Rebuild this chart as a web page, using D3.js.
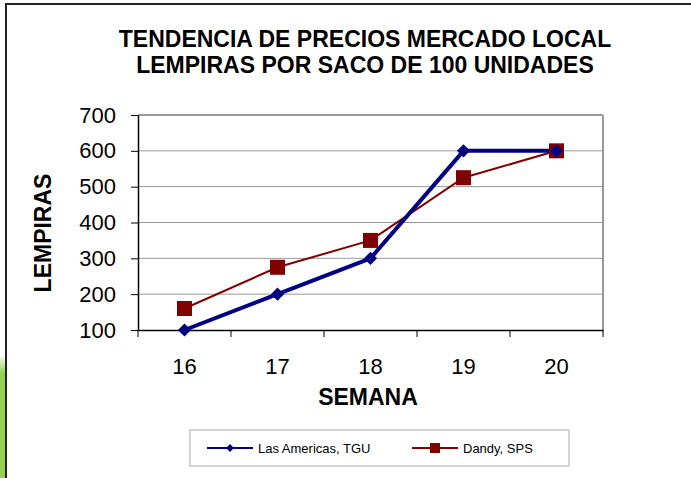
<!DOCTYPE html>
<html>
<head>
<meta charset="utf-8">
<script src="https://cdn.jsdelivr.net/npm/d3@7"></script>
<style>
  body { margin: 0; background: #fff; }
  svg { display: block; font-family: "Liberation Sans", Arial, sans-serif; }
</style>
</head>
<body>
<div id="chart"></div>
<script>
// Data
const semanas = ["16", "17", "18", "19", "20"];
const lasAmericas = [100, 200, 300, 600, 600];
const dandy = [160, 275, 350, 525, 600];
const yTicks = [100, 200, 300, 400, 500, 600, 700];
const seriesNames = ["Las Americas, TGU", "Dandy, SPS"];

const w = 691, h = 478;
const plot = { left: 138, right: 603, top: 115, bottom: 330 };

const svg = d3.select("#chart").append("svg")
  .attr("width", w)
  .attr("height", h);

// left green strip and slide frame
const grad = svg.append("defs").append("linearGradient")
  .attr("id", "greenFade").attr("x1", 0).attr("x2", 0).attr("y1", 0).attr("y2", 1);
grad.append("stop").attr("offset", "0%").attr("stop-color", "#92d050").attr("stop-opacity", 0);
grad.append("stop").attr("offset", "15%").attr("stop-color", "#92d050").attr("stop-opacity", 1);
grad.append("stop").attr("offset", "100%").attr("stop-color", "#92d050").attr("stop-opacity", 1);
svg.append("rect").attr("x", 0).attr("y", 355).attr("width", 5).attr("height", h - 355)
  .attr("fill", "url(#greenFade)");

svg.append("line").attr("x1", 6).attr("x2", w).attr("y1", 4).attr("y2", 4)
  .attr("stroke", "#222").attr("stroke-width", 2);
svg.append("line").attr("x1", 6).attr("x2", 6).attr("y1", 3).attr("y2", h)
  .attr("stroke", "#222").attr("stroke-width", 2);

// scales
const x = d3.scaleBand().domain(semanas).range([plot.left, plot.right]).padding(0);
const y = d3.scaleLinear().domain([100, 700]).range([plot.bottom, plot.top]);
const cx = d => x(d) + x.bandwidth() / 2;

// gridlines
svg.append("g").selectAll("line")
  .data(yTicks.slice(1))
  .enter().append("line")
  .attr("x1", plot.left).attr("x2", plot.right)
  .attr("y1", d => y(d)).attr("y2", d => y(d))
  .attr("stroke", "#999").attr("stroke-width", d => d === 700 ? 2 : 1);

// right border of plot
svg.append("line")
  .attr("x1", plot.right).attr("x2", plot.right)
  .attr("y1", plot.top).attr("y2", plot.bottom)
  .attr("stroke", "#999").attr("stroke-width", 2);

// y axis
const yAxis = d3.axisLeft(y).tickValues(yTicks).tickSize(7).tickPadding(15).tickSizeOuter(0);
const gy = svg.append("g")
  .attr("transform", "translate(" + plot.left + ",0)")
  .call(yAxis);
gy.select(".domain").attr("stroke", "#000").attr("stroke-width", 1.5);
gy.selectAll(".tick line").attr("stroke", "#000");
gy.selectAll("text").attr("font-size", 22).attr("fill", "#000")
  .attr("font-family", "Liberation Sans, Arial, sans-serif");

// x axis (labels centred on categories, ticks between them)
const xAxis = d3.axisBottom(x).tickSize(0).tickPadding(28).tickSizeOuter(0);
const gx = svg.append("g")
  .attr("transform", "translate(0," + plot.bottom + ")")
  .call(xAxis);
gx.select(".domain").attr("stroke", "#000").attr("stroke-width", 1.5);
gx.selectAll("text").attr("font-size", 22).attr("fill", "#000")
  .attr("font-family", "Liberation Sans, Arial, sans-serif");
svg.append("g").selectAll("line")
  .data(semanas.concat(["end"]))
  .enter().append("line")
  .attr("x1", (d, i) => i < semanas.length ? x(d) : plot.right)
  .attr("x2", (d, i) => i < semanas.length ? x(d) : plot.right)
  .attr("y1", plot.bottom).attr("y2", plot.bottom + 7)
  .attr("stroke", "#000");

// lines
const line = d3.line().x((d, i) => cx(semanas[i])).y(d => y(d));

svg.append("path").datum(dandy)
  .attr("d", line).attr("fill", "none")
  .attr("stroke", "#800000").attr("stroke-width", 2);
svg.append("path").datum(lasAmericas)
  .attr("d", line).attr("fill", "none")
  .attr("stroke", "#000080").attr("stroke-width", 4).attr("stroke-linejoin", "round");

// markers
svg.append("g").selectAll("rect")
  .data(dandy)
  .enter().append("rect")
  .attr("x", (d, i) => cx(semanas[i]) - 7.5)
  .attr("y", d => y(d) - 7.5)
  .attr("width", 15).attr("height", 15)
  .attr("fill", "#800000");

const diamond = d3.symbol().type(d3.symbolDiamond2).size(110);
svg.append("g").selectAll("path")
  .data(lasAmericas)
  .enter().append("path")
  .attr("d", diamond)
  .attr("transform", (d, i) => "translate(" + cx(semanas[i]) + "," + y(d) + ")")
  .attr("fill", "#000080");

// titles
const title = svg.append("text")
  .attr("text-anchor", "middle")
  .attr("font-size", 23).attr("font-weight", "bold");
title.append("tspan").attr("x", 365).attr("y", 47).text("TENDENCIA DE PRECIOS MERCADO LOCAL");
title.append("tspan").attr("x", 365).attr("y", 73).text("LEMPIRAS POR SACO DE 100 UNIDADES");

svg.append("text")
  .attr("x", 368).attr("y", 405)
  .attr("text-anchor", "middle")
  .attr("font-size", 23).attr("font-weight", "bold")
  .text("SEMANA");

svg.append("text")
  .attr("transform", "translate(51,233) rotate(-90)")
  .attr("text-anchor", "middle")
  .attr("font-size", 23).attr("font-weight", "bold")
  .text("LEMPIRAS");

// legend
const legend = svg.append("g");
legend.append("rect")
  .attr("x", 190).attr("y", 430).attr("width", 379).attr("height", 36)
  .attr("fill", "#fff").attr("stroke", "#aaa");

const legendX = [207, 412];
const legendColors = ["#000080", "#800000"];
const items = legend.selectAll("g.item")
  .data(seriesNames)
  .enter().append("g")
  .attr("class", "item")
  .attr("transform", (d, i) => "translate(" + legendX[i] + ",448)");
items.append("line")
  .attr("x1", 0).attr("x2", 46)
  .attr("stroke", (d, i) => legendColors[i])
  .attr("stroke-width", 2);
items.filter((d, i) => i === 0).append("path")
  .attr("d", d3.symbol().type(d3.symbolDiamond2).size(40))
  .attr("transform", "translate(23,0)")
  .attr("fill", "#000080");
items.filter((d, i) => i === 1).append("rect")
  .attr("x", 18).attr("y", -5).attr("width", 10).attr("height", 10)
  .attr("fill", "#800000");
items.append("text")
  .attr("x", 51).attr("y", 5)
  .attr("font-size", 13)
  .text(d => d);
</script>
</body>
</html>
